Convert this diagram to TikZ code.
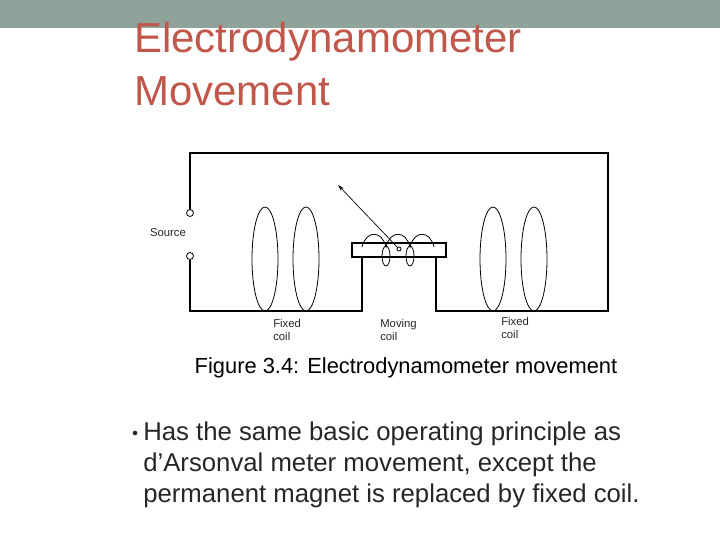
\documentclass[tikz,border=0pt]{standalone}
\usepackage{fontspec}
\setmainfont{Liberation Sans}
\usetikzlibrary{arrows.meta}
\definecolor{bar}{HTML}{8FA39A}
\definecolor{ttl}{HTML}{C0574A}
\definecolor{txt}{HTML}{262626}
\begin{document}
\begin{tikzpicture}[x=0.75pt,y=-0.75pt,
  wire/.style={line width=0.8pt},
  thin/.style={line width=0.6pt},
  lbl/.style={font=\fontsize{8.5}{9.5}\selectfont, text=black!85, align=left, inner sep=0pt, anchor=north west}]
\useasboundingbox (0,0) rectangle (720,540);
\fill[bar] (0,0) rectangle (720,28);
\node[anchor=north west, text=ttl, font=\fontsize{31.5}{39.5}\selectfont, align=left, inner sep=0pt] (title) at (134,22) {Electrodynamometer\\Movement};
% circuit
\coordinate (t1) at (190,213);
\coordinate (t2) at (190,256);
\draw[wire] (t1) ++(0,-3.5) -- (190,153) -- (608,153) -- (608,311) -- (436,311) -- (436,257);
\draw[wire] (t2) ++(0,3.5) -- (190,311) -- (362,311) -- (362,257);
\draw[thin] (t1) circle (3.5);
\draw[thin] (t2) circle (3.5);
\foreach \x in {265,306,493,534} \draw[thin] (\x,259) ellipse (13 and 52);
% moving coil
\draw[thin] (362,247) .. controls (366,230) and (382,230) .. (386,247)
            .. controls (390,230) and (406,230) .. (410,247)
            .. controls (414,230) and (430,230) .. (434,247);
\draw[thin] (386,256) ellipse (4 and 10);
\draw[thin] (410,256) ellipse (4 and 10);
\draw[wire] (352,243) rectangle (446,257);
\node[draw, circle, inner sep=0pt, minimum size=3pt, thin] (piv) at (399,249) {};
\coordinate (tip) at (338,185);
\draw[line width=0.5pt, -{Stealth[length=5pt,width=3pt]}] (piv) -- (tip);
\node[font=\fontsize{8.5}{9.5}\selectfont, text=black!85, inner sep=0pt] (src) at (168,233) {Source};
\node[lbl] (f1) at (273,319) {Fixed\\coil};
\node[lbl] (mv) at (380,319) {Moving\\coil};
\node[lbl] (f2) at (501,317) {Fixed\\coil};
\node[font=\fontsize{16.4}{19}\selectfont, inner sep=0pt] (cap) at (406,368) {Figure 3.4: Electrodynamometer movement};
\node[circle, fill=txt, inner sep=0pt, minimum size=3.5pt] (b) at (135,433) {};
\node[anchor=north west, font=\fontsize{19.3}{23.2}\selectfont, text=txt, align=left, inner sep=0pt] (bt) at (143,422) {Has the same basic operating principle as\\d’Arsonval meter movement, except the\\permanent magnet is replaced by fixed coil.};
\end{tikzpicture}
\end{document}
